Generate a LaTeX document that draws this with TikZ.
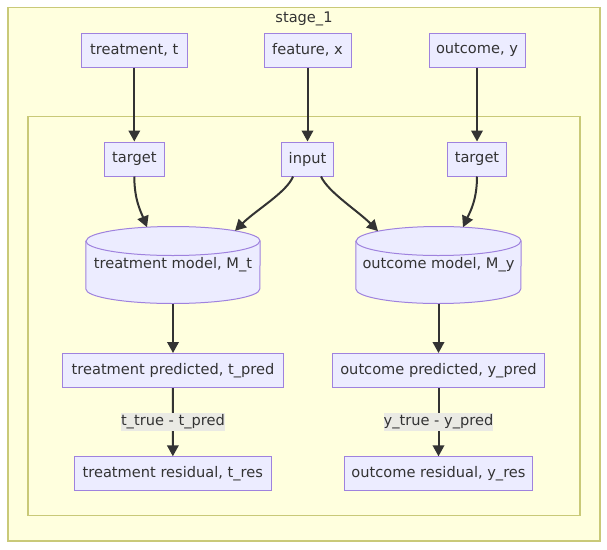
\documentclass[tikz,border=0pt]{standalone}
\usepackage{fontspec}
\setmainfont{DejaVu Sans}
\usetikzlibrary{arrows.meta,calc}
\definecolor{nodefill}{HTML}{ECECFF}
\definecolor{nodeline}{HTML}{9F82DE}
\definecolor{clfill}{HTML}{FFFFDE}
\definecolor{clline}{HTML}{C9C978}
\definecolor{ink}{HTML}{333333}
\definecolor{lblbg}{HTML}{EAEAE4}
\pgfdeclarelayer{bg}
\pgfdeclarelayer{mid}
\pgfsetlayers{bg,mid,main}
\begin{document}
\begin{tikzpicture}[x=1pt,y=-1pt,
  every node/.style={text=ink,font=\fontsize{14.6}{17}\selectfont},
  cluster/.style={draw=clline,fill=clfill,line width=1.5pt,inner sep=0pt},
  box/.style={draw=nodeline,fill=nodefill,line width=1pt,inner sep=0pt,minimum height=34pt},
  cylnode/.style={inner sep=0pt,minimum height=76.6pt},
  edge/.style={draw=ink,line width=2pt,-{Triangle[length=11pt,width=11.5pt]}},
  elabel/.style={fill=lblbg,inner xsep=0pt,inner ysep=1.5pt}]
\useasboundingbox (0,0) rectangle (607,549);
% clusters
\begin{pgfonlayer}{bg}
\node[cluster,minimum width=592.3pt,minimum height=533.7pt] (outer) at (303.9,274.2) {};
\node[cluster,minimum width=552pt,minimum height=399pt] (inner) at (304,316.2) {};
\end{pgfonlayer}
\node[anchor=center] (title) at (304,18.8) {stage\_1};
% top row
\node[box,minimum width=106pt] (tt) at (134.3,50) {treatment, t};
\node[box,minimum width=87pt] (fx) at (307.5,50) {feature, x};
\node[box,minimum width=96pt] (oy) at (477,50) {outcome, y};
% second row
\node[box,minimum width=59.5pt] (tl) at (134.3,159) {target};
\node[box,minimum width=52.7pt] (inp) at (307.5,159) {input};
\node[box,minimum width=59.3pt] (trg) at (477,159) {target};
% cylinders
\node[cylnode,minimum width=174pt] (tm) at (173,265) {treatment model, M\_t};
\node[cylnode,minimum width=165pt] (om) at (438.5,265) {outcome model, M\_y};
\begin{pgfonlayer}{mid}
\foreach \n/\rx in {tm/87,om/82.5}{
  \filldraw[fill=nodefill,draw=nodeline,line width=1pt]
    ([yshift=-14.5pt]\n.north west) -- ([yshift=14.5pt]\n.south west)
    arc[start angle=180,end angle=360,x radius=\rx pt,y radius=14.5pt]
    -- ([yshift=-14.5pt]\n.north east)
    arc[start angle=0,end angle=180,x radius=\rx pt,y radius=14.5pt] -- cycle;
  \draw[draw=nodeline,line width=1pt] ([yshift=-14.5pt]\n.north west)
    arc[start angle=180,end angle=360,x radius=\rx pt,y radius=14.5pt];
}
\end{pgfonlayer}
% lower rows
\node[box,minimum width=220.6pt] (tp) at (173,370.5) {treatment predicted, t\_pred};
\node[box,minimum width=211.6pt] (op) at (438.5,370.5) {outcome predicted, y\_pred};
\node[box,minimum width=197pt] (tres) at (172.8,473.8) {treatment residual, t\_res};
\node[box,minimum width=187.6pt] (ores) at (438.5,473.8) {outcome residual, y\_res};
% arrow end points on cylinder tops
\coordinate (tmA) at ($(tm.north)+(-26,0.7)$);
\coordinate (tmB) at ($(tm.north)+(62,4.3)$);
\coordinate (omA) at ($(om.north)+(-60.5,4.6)$);
\coordinate (omB) at ($(om.north)+(24.5,0.7)$);
% edges
\draw[edge] (tt) -- (tl);
\draw[edge] (fx) -- (inp);
\draw[edge] (oy) -- (trg);
\draw[edge] (tl.south) .. controls (134.3,200) and (141,212) .. (tmA);
\draw[edge] ([xshift=-14.5pt]inp.south) .. controls (287,192) and (256,210) .. (tmB);
\draw[edge] ([xshift=13.5pt]inp.south) .. controls (328,192) and (358,211) .. (omA);
\draw[edge] (trg.south) .. controls (477,200) and (470,212) .. (omB);
\draw[edge] (tm.south) -- (tp);
\draw[edge] (om.south) -- (op);
\draw[edge] (tp) -- node[elabel] {t\_true - t\_pred} (tres);
\draw[edge] (op) -- node[elabel] {y\_true - y\_pred} (ores);
\end{tikzpicture}
\end{document}
